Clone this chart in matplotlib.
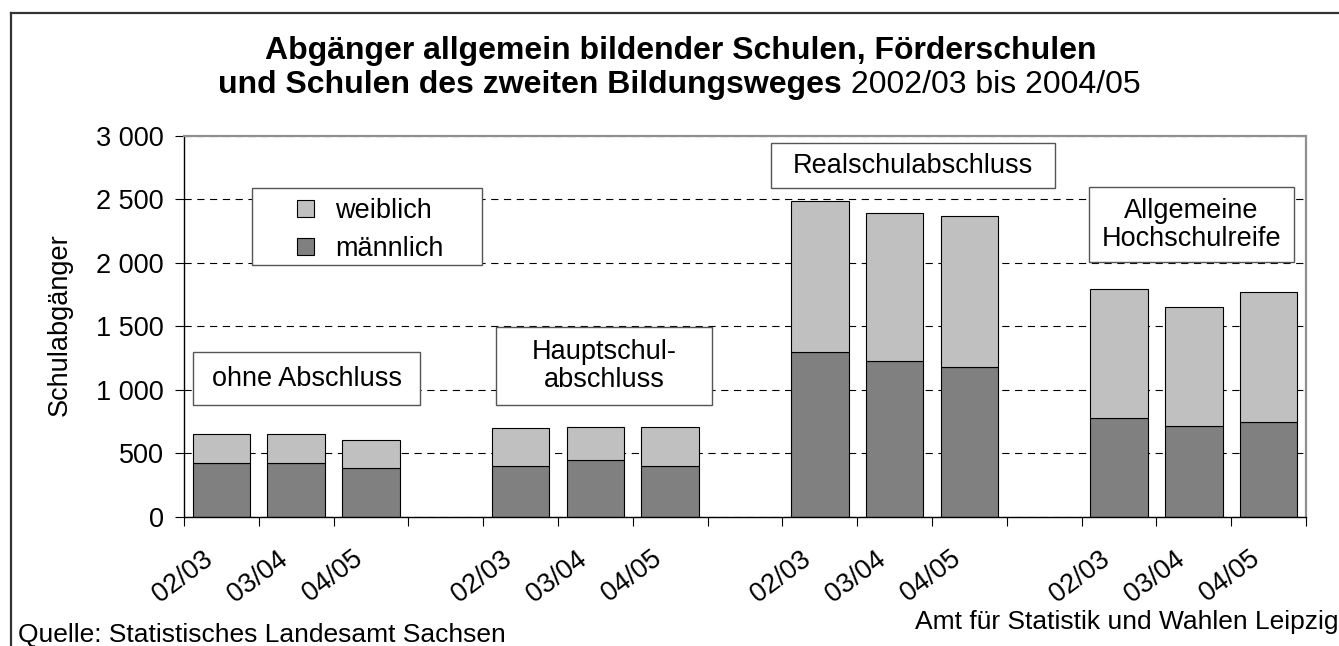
import numpy as np
import matplotlib
matplotlib.use("Agg")
import matplotlib.pyplot as plt
import matplotlib.ticker as mticker
from matplotlib.patches import Rectangle
from matplotlib.lines import Line2D

plt.rcParams["font.family"] = ["Liberation Sans", "DejaVu Sans"]

# data
abschluesse = ["ohne Abschluss", "Hauptschul-\nabschluss", "Realschulabschluss", "Allgemeine\nHochschulreife"]
jahre = ["02/03", "03/04", "04/05"]
maennlich = [425, 420, 381, 402, 446, 399, 1294, 1223, 1179, 775, 712, 743]
weiblich = [226, 234, 223, 299, 263, 310, 1194, 1166, 1191, 1020, 939, 1024]
serien = ["weiblich", "männlich"]
farben = {"männlich": "#808080", "weiblich": "#c0c0c0"}

# 4 groups of 3 bars, one empty slot between groups
pos = np.array([g * 4 + j for g in range(len(abschluesse)) for j in range(len(jahre))])
labels = [j for g in abschluesse for j in jahre]
maennlich = np.array(maennlich)
weiblich = np.array(weiblich)

W, H = 1339, 646
FS = 19.5
fig = plt.figure(figsize=(W / 100, H / 100), dpi=100)
ax = fig.add_axes([184 / W, 1 - 516.7 / H, (1306 - 184) / W, (516.7 - 135.7) / H])

# frame round the figure (only top and left are visible)
fig.add_artist(Line2D([10.7 / W, 1], [1 - 13.3 / H, 1 - 13.3 / H], color="#333333", lw=1.6, transform=fig.transFigure))
fig.add_artist(Line2D([10.7 / W, 10.7 / W], [0, 1 - 13.3 / H], color="#333333", lw=1.6, transform=fig.transFigure))

ax.yaxis.grid(True, color="black", linestyle=(0, (6.5, 5)), linewidth=0.8)
ax.set_axisbelow(True)

bw = 0.77
ax.bar(pos, maennlich, width=bw, color=farben["männlich"], edgecolor="black", linewidth=0.8, zorder=2)
ax.bar(pos, weiblich, bottom=maennlich, width=bw, color=farben["weiblich"], edgecolor="black", linewidth=0.8, zorder=2)

ax.set_xlim(-0.5, 14.5)
ax.set_ylim(0, 3000)
ax.set_yticks(np.arange(0, 3001, 500))
ax.yaxis.set_major_formatter(mticker.FuncFormatter(lambda v, p: f"{int(v):,}".replace(",", " ")))
ax.tick_params(axis="y", direction="out", length=6.5, width=0.8, labelsize=FS, pad=8)
ax.set_xticks(np.arange(-0.5, 15, 1))
ax.set_xticklabels([])
ax.tick_params(axis="x", direction="out", length=6.5, width=0.8)

for s in ["left", "bottom"]:
    ax.spines[s].set_color("black")
    ax.spines[s].set_linewidth(1.0)
for s in ["top", "right"]:
    ax.spines[s].set_color("#909090")
    ax.spines[s].set_linewidth(1.6)

for p, lab in zip(pos, labels):
    ax.annotate(lab, xy=(p, 0), xycoords=("data", "axes fraction"), xytext=(-14, -21),
                textcoords="offset points", rotation=37, rotation_mode="anchor",
                ha="right", va="top", fontsize=FS)

fig.text(60 / W, 1 - 325 / H, "Schulabgänger", rotation=90, ha="center", va="center", fontsize=FS)


def px_rect(x0, y0, x1, y1, **kw):
    r = Rectangle((x0 / W, 1 - y1 / H), (x1 - x0) / W, (y1 - y0) / H, transform=fig.transFigure, **kw)
    fig.add_artist(r)
    return r


def px_box(x0, y0, x1, y1, text):
    # white label box with grey edge, picture pixel coords
    px_rect(x0, y0, x1, y1, facecolor="white", edgecolor="#555555", linewidth=1.0, zorder=5)
    fig.text((x0 + x1) / 2 / W, 1 - (y0 + y1) / 2 / H, text, ha="center", va="center",
             fontsize=FS, linespacing=1.1, zorder=6)


px_box(193, 352, 420, 405, abschluesse[0])
px_box(496, 327, 712, 405, abschluesse[1])
px_box(771, 143, 1055, 188, abschluesse[2])
px_box(1089, 187, 1294, 262, abschluesse[3])

# legend box
px_rect(252, 188, 482, 265, facecolor="white", edgecolor="#555555", linewidth=1.0, zorder=5)
for i, name in enumerate(serien):
    yc = 208.5 + i * 38
    px_rect(297, yc - 8.5, 314, yc + 8.5, facecolor=farben[name], edgecolor="black", linewidth=0.8, zorder=6)
    fig.text(335 / W, 1 - yc / H, name, ha="left", va="center_baseline", fontsize=FS, zorder=6)

# title: bold part plus regular part
fig.text(265 / W, 1 - 59 / H, "Abgänger allgemein bildender Schulen, Förderschulen",
         ha="left", va="baseline", fontsize=23, fontweight="bold")
t_bold = fig.text(218 / W, 1 - 93 / H, "und Schulen des zweiten Bildungsweges",
                  ha="left", va="baseline", fontsize=23, fontweight="bold")
fig.canvas.draw()
x_end = t_bold.get_window_extent(fig.canvas.get_renderer()).x1 / W
fig.text(x_end, 1 - 93 / H, " 2002/03 bis 2004/05", ha="left", va="baseline", fontsize=23)

fig.text(18 / W, 1 - 642 / H, "Quelle: Statistisches Landesamt Sachsen", ha="left", va="baseline", fontsize=19)
fig.text(915 / W, 1 - 629 / H, "Amt für Statistik und Wahlen Leipzig", ha="left", va="baseline", fontsize=19)

fig.savefig("out.png", dpi=100)
